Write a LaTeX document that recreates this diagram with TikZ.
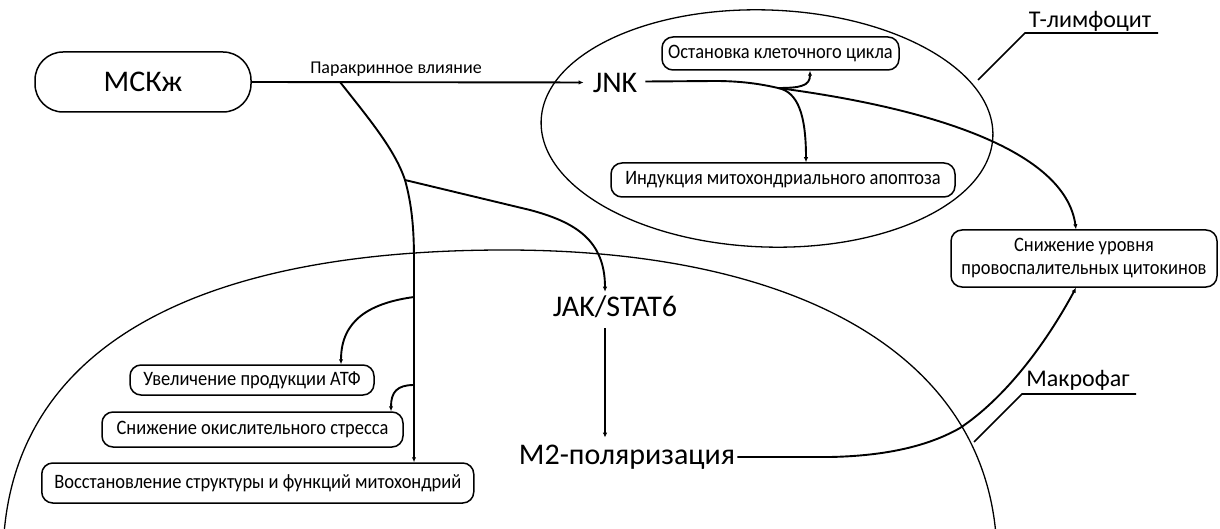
\documentclass[tikz,border=0pt]{standalone}
\usepackage{fontspec}
\setmainfont{Carlito}
\newfontfamily\condf[FakeStretch=0.9]{Carlito}
\usetikzlibrary{arrows.meta,calc}
\begin{document}
\begin{tikzpicture}[x=1pt,y=-1pt,
  conn/.style={line width=1.9pt},
  arr/.style={conn,-{Latex[length=5pt,width=4.5pt]}},
  cell/.style={line width=1.3pt},
  box/.style={draw,line width=1.5pt,rounded corners=11pt,inner sep=0pt,font=\condf\fontsize{20.5}{23}\selectfont,align=center},
  bigtxt/.style={font=\fontsize{30}{36}\selectfont,inner sep=0pt},
  lbl/.style={font=\fontsize{24}{28}\selectfont,inner sep=0pt},
]
\fill[white] (0,0) rectangle (1220,529);
\useasboundingbox (0,0) rectangle (1220,529);
\clip (0,0) rectangle (1220,529);

% cells
\draw[cell] (3,560) .. controls (3,360) and (175,250) .. (505,250) .. controls (805,250) and (997,360) .. (997,560);
\draw[cell, rotate around={-2:(767,128.5)}] (767,128.5) ellipse [x radius=226pt, y radius=118.5pt];

% nodes
\node[draw,line width=1.5pt,rounded corners=28pt,minimum width=216pt,minimum height=60pt,bigtxt] (msc) at (143,82) {МСКж};
\node[bigtxt] (jnk) at (615,82.5) {JNK};
\node[bigtxt] (jak) at (615,307) {JAK/STAT6};
\node[bigtxt] (m2) at (627,457) {М2-поляризация};

\node[box,minimum width=237pt,minimum height=33pt] (ost) at (780.5,53.5) {Остановка клеточного цикла};
\node[box,minimum width=344pt,minimum height=34pt] (ind) at (783,180) {Индукция митохондриального апоптоза};
\node[box,minimum width=266pt,minimum height=57pt] (sniz) at (1084,258.5) {Снижение уровня\\провоспалительных цитокинов};
\node[box,minimum width=244pt,minimum height=30pt] (atf) at (252,380) {Увеличение продукции АТФ};
\node[box,minimum width=301pt,minimum height=35pt] (str) at (252.5,429.5) {Снижение окислительного стресса};
\node[box,minimum width=432pt,minimum height=40pt] (vos) at (257.75,483) {Восстановление структуры и функций митохондрий};

\node[font=\fontsize{18}{22}\selectfont,inner sep=0pt] (par) at (396,69) {Паракринное влияние};
\node[lbl] (tl) at (1090,21) {Т-лимфоцит};
\node[lbl] (mf) at (1078,380) {Макрофаг};

% label leaders
\coordinate (tlR) at (1158,33);
\coordinate (tlL) at (1025,33);
\coordinate (tlE) at (978,80);
\draw[conn,line width=1.6pt] (tlR) -- (tlL) -- (tlE);
\coordinate (mfR) at (1136,394);
\coordinate (mfL) at (1022,394);
\coordinate (mfE) at (974,442);
\draw[conn,line width=1.6pt] (mfR) -- (mfL) -- (mfE);

% junctions
\coordinate (b1) at (340,82);
\coordinate (b2) at (405,180);
\coordinate (b3) at (414,297);
\coordinate (b4) at (414,385);
\coordinate (jb) at (778,88);

% MSC -> JNK
\draw[arr,shorten >=9pt] (msc.east) -- (jnk.west);
% trunk
\draw[arr] (b1) .. controls (370,120) and (395,150) .. (b2) .. controls (412,205) and (414,230) .. (414,260) -- ($(vos.north)+(156.25,0)$);
% JAK branch
\draw[arr] (b2) -- (530,210) .. controls (575,222) and (605,240) .. ($(jak.north)+(-10,-4)$);
\draw[arr] ($(jak.south)+(-10,10)$) -- ($(m2.north)+(-22,-7)$);
% ATP branch
\draw[arr] (b3) .. controls (370,303) and (341,320) .. ($(atf.north)+(89,0)$);
% stress branch
\draw[arr] (b4) .. controls (397,385) and (391,392) .. ($(str.north)+(138.5,0)$);
% JNK -> cytokines
\draw[conn] ($(jnk.east)+(8,-1)$) -- (715,81) .. controls (745,81) and (765,85) .. (jb);
\draw[arr] (jb) .. controls (930,108) and (1065,150) .. ($(sniz.north)+(-8,0)$);
\draw[arr] (jb) .. controls (798,92) and (806,115) .. ($(ind.north)+(23,0)$);
\draw[arr] (jb) .. controls (800,88) and (810,86) .. ($(ost.south)+(29.5,0)$);
% M2 -> cytokines
\draw[arr] ($(m2.east)+(2,0)$) -- (830,457) .. controls (880,456) and (925,448) .. (960,428) .. controls (1005,398) and (1045,345) .. ($(sniz.south)+(-8,0)$);
\end{tikzpicture}
\end{document}
